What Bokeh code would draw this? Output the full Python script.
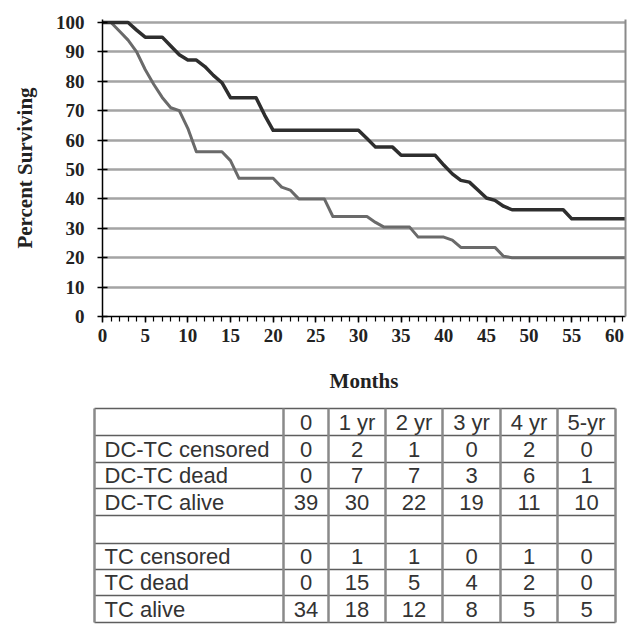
from bokeh.plotting import figure
from bokeh.models import Range1d, FixedTicker, LinearAxis
from bokeh.layouts import column
from bokeh.embed import file_html
from bokeh.resources import INLINE
from bokeh.core.properties import value

# ---------------- data ----------------
months = list(range(0, 63))
dc_tc = [100, 100, 100, 100, 97.4, 95, 95, 95, 92, 89,
         87.2, 87.2, 85, 82, 79.5, 74.4, 74.4, 74.4, 74.4, 68.5,
         63.3, 63.3, 63.3, 63.3, 63.3, 63.3, 63.3, 63.3, 63.3, 63.3,
         63.3, 60.5, 57.6, 57.6, 57.6, 54.8, 54.8, 54.8, 54.8, 54.8,
         51.5, 48.5, 46.3, 45.7, 43, 40.3, 39.5, 37.5, 36.3, 36.3,
         36.3, 36.3, 36.3, 36.3, 36.3, 33.2, 33.2, 33.2, 33.2, 33.2,
         33.2, 33.2, 33.2]
tc = [100, 100, 97, 94, 90, 84, 79, 74.5, 71, 70,
      64, 56, 56, 56, 56, 53, 47, 47, 47, 47,
      47, 44, 43, 40, 40, 40, 40, 34, 34, 34,
      34, 34, 32, 30.4, 30.4, 30.4, 30.4, 27, 27, 27,
      27, 26, 23.5, 23.5, 23.5, 23.5, 23.5, 20.5, 20, 20,
      20, 20, 20, 20, 20, 20, 20, 20, 20, 20,
      20, 20, 20]
x_ticks = [0, 5, 10, 15, 20, 25, 30, 35, 40, 45, 50, 55, 60]
y_ticks = [0, 10, 20, 30, 40, 50, 60, 70, 80, 90, 100]

col_headers = ["0", "1 yr", "2 yr", "3 yr", "4 yr", "5-yr"]
row_labels = ["DC-TC censored", "DC-TC dead", "DC-TC alive", "",
              "TC censored", "TC dead", "TC alive"]
dc_censored = [0, 2, 1, 0, 2, 0]
dc_dead = [0, 7, 7, 3, 6, 1]
dc_alive = [39, 30, 22, 19, 11, 10]
tc_censored = [0, 1, 1, 0, 1, 0]
tc_dead = [0, 15, 5, 4, 2, 0]
tc_alive = [34, 18, 12, 8, 5, 5]
table_rows = [dc_censored, dc_dead, dc_alive, None, tc_censored, tc_dead, tc_alive]

SERIF = "Liberation Serif"
SANS = "Liberation Sans"

# ---------------- chart ----------------
p = figure(width=629, height=400, x_range=Range1d(0, 61.3), y_range=Range1d(0, 101),
           output_backend="svg", toolbar_location=None,
           min_border_left=102, min_border_right=4, min_border_top=19, min_border_bottom=84)
p.outline_line_color = None
p.background_fill_color = "white"
p.border_fill_color = "white"

p.xgrid.visible = False
p.ygrid.grid_line_color = "#a4a4a4"
p.ygrid.grid_line_width = 2.5

p.xaxis.ticker = FixedTicker(ticks=x_ticks, minor_ticks=months)
p.yaxis.ticker = FixedTicker(ticks=y_ticks, minor_ticks=[])
for ax in (p.xaxis[0], p.yaxis[0]):
    ax.axis_line_color = "black"
    ax.axis_line_width = 1.5
    ax.major_tick_line_color = "black"
    ax.major_tick_line_width = 1.5
    ax.major_label_text_font = SERIF
    ax.major_label_text_font_style = "bold"
    ax.major_label_text_font_size = "19px"
    ax.major_label_text_color = "#222222"
    ax.axis_label_text_font = SERIF
    ax.axis_label_text_font_style = "bold"
    ax.axis_label_text_font_size = "21px"
    ax.axis_label_text_color = "#222222"

p.xaxis.axis_label = "Months"
p.xaxis.major_tick_in = 0
p.xaxis.major_tick_out = 6
p.xaxis.minor_tick_in = 0
p.xaxis.minor_tick_out = 5
p.xaxis.minor_tick_line_color = "black"
p.xaxis.minor_tick_line_width = 1.2
p.xaxis.major_label_standoff = 6
p.xaxis.axis_label_standoff = 24

p.yaxis.axis_label = "Percent Surviving"
p.yaxis.major_tick_in = 5
p.yaxis.major_tick_out = 5
p.yaxis.minor_tick_line_color = None
p.yaxis.major_label_standoff = 13
p.yaxis.axis_label_standoff = 16

right_ax = LinearAxis(ticker=FixedTicker(ticks=[]), axis_line_color="#8a8a8a",
                      axis_line_width=2, major_tick_line_color=None,
                      minor_tick_line_color=None, major_label_text_font_size="0px")
p.add_layout(right_ax, "right")

p.line(months, tc, line_color="#6a6a6a", line_width=3, line_join="round")
p.line(months, dc_tc, line_color="#2e2e2e", line_width=3.5, line_join="round")

# ---------------- table ----------------
t = figure(width=629, height=224, x_range=Range1d(0, 629), y_range=Range1d(624, 400),
           output_backend="svg", toolbar_location=None,
           x_axis_location=None, y_axis_location=None,
           min_border=0, min_border_left=0, min_border_right=0,
           min_border_top=0, min_border_bottom=0)
t.outline_line_color = None
t.xgrid.visible = False
t.ygrid.visible = False

if "frame_align" in p.properties():
    p.frame_align = False
    t.frame_align = False

col_edges = [94, 283, 328, 385, 442, 500, 557, 615]
row_edges = [408, 435, 462, 488, 515, 543, 569, 595, 622]

t.segment(x0=[col_edges[0]] * len(row_edges), x1=[col_edges[-1]] * len(row_edges),
          y0=row_edges, y1=row_edges, line_color="#5e5e5e", line_width=1.6)
t.segment(x0=col_edges, x1=col_edges, y0=[row_edges[0]] * len(col_edges),
          y1=[row_edges[-1]] * len(col_edges), line_color="#8a8a8a", line_width=2.5)

tx, ty, tt = [], [], []
for j, h in enumerate(col_headers):
    tx.append((col_edges[j + 1] + col_edges[j + 2]) / 2)
    ty.append((row_edges[0] + row_edges[1]) / 2)
    tt.append(h)
for i, lab in enumerate(row_labels):
    mid = (row_edges[i + 1] + row_edges[i + 2]) / 2
    if lab:
        t.text(x=[col_edges[0] + 10], y=[mid], text=[lab], text_font=value(SANS),
               text_font_size="22px", text_align="left", text_baseline="middle",
               text_color="#333333")
    vals = table_rows[i]
    if vals is None:
        continue
    for j, v in enumerate(vals):
        tx.append((col_edges[j + 1] + col_edges[j + 2]) / 2)
        ty.append(mid)
        tt.append(str(v))
t.text(x=tx, y=ty, text=tt, text_font=value(SANS), text_font_size="22px",
       text_align="center", text_baseline="middle", text_color="#333333")

layout = column(p, t, spacing=0)
open("out.html", "w").write(file_html(layout, INLINE))
